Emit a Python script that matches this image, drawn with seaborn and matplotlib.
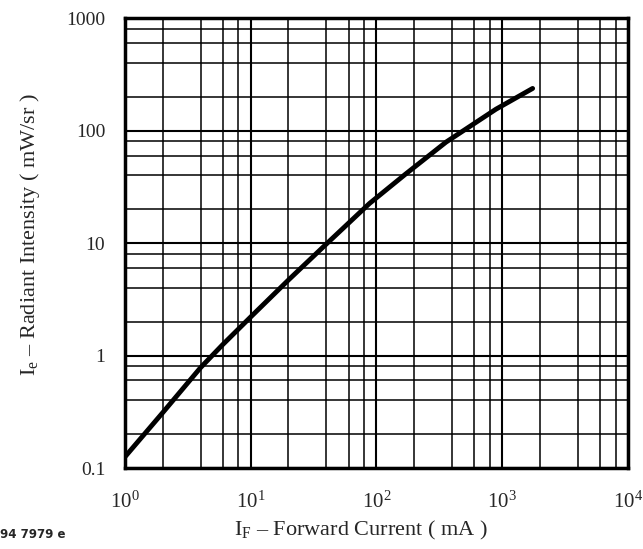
import matplotlib
matplotlib.use("Agg")
import matplotlib.pyplot as plt
import matplotlib.ticker as mticker
import seaborn as sns
import pandas as pd

# --- data ---
forward_current = [1, 2, 4, 6, 10, 20, 38, 88, 170, 357, 890, 1740]
radiant_intensity = [0.125, 0.31, 0.78, 1.25, 2.2, 4.7, 9.3, 22.5, 41, 79, 155, 237]

x_ticks = [1, 10, 100, 1000, 10000]
x_tick_labels = [r"$\mathregular{10^{0}}$", r"$\mathregular{10^{1}}$", r"$\mathregular{10^{2}}$",
                 r"$\mathregular{10^{3}}$", r"$\mathregular{10^{4}}$"]
y_ticks = [0.1, 1, 10, 100, 1000]
y_tick_labels = ["0.1", "1", "10", "100", "1000"]

df = pd.DataFrame({"IF": forward_current, "Ie": radiant_intensity})

sns.set_style("white")
plt.rcParams["font.family"] = ["Liberation Serif", "DejaVu Serif"]
plt.rcParams["mathtext.fontset"] = "custom"
plt.rcParams["mathtext.rm"] = "Liberation Serif"
plt.rcParams["mathtext.it"] = "Liberation Serif:italic"

fig = plt.figure(figsize=(6.43, 5.49), dpi=100)
ax = fig.add_axes([0.194, 0.1475, 0.783, 0.8195])

sns.lineplot(data=df, x="IF", y="Ie", ax=ax, color="black", linewidth=3.5)

ax.set_xscale("log")
ax.set_yscale("log")
ax.set_xlim(1, 10000)
ax.set_ylim(0.1, 1000)

# grid: decades plus 2, 4, 6, 8 subdivisions
ax.xaxis.set_minor_locator(mticker.LogLocator(base=10, subs=[2, 4, 6, 8]))
ax.yaxis.set_minor_locator(mticker.LogLocator(base=10, subs=[2, 4, 6, 8]))
ax.grid(which="major", color="black", linewidth=1.5)
ax.grid(which="minor", color="black", linewidth=1.1)
ax.set_axisbelow(True)

ax.set_xticks(x_ticks)
ax.set_xticklabels(x_tick_labels)
ax.set_yticks(y_ticks)
ax.set_yticklabels(y_tick_labels)
ax.xaxis.set_minor_formatter(mticker.NullFormatter())
ax.yaxis.set_minor_formatter(mticker.NullFormatter())
ax.tick_params(which="both", length=0)
ax.tick_params(axis="x", labelsize=15, pad=17)
ax.tick_params(axis="y", labelsize=14, pad=14)

for s in ax.spines.values():
    s.set_color("black")
    s.set_linewidth(2.5)

ax.set_xlabel(r"I$_\mathregular{F}$ – Forward Current ( mA )", fontsize=16)
ax.set_ylabel(r"I$_\mathregular{e}$ – Radiant Intensity ( mW/sr )", fontsize=16)
ax.xaxis.set_label_coords(0.47, -0.113)
ax.yaxis.set_label_coords(-0.165, 0.52)

fig.text(0.0, 0.02, "94 7979 e", fontsize=8.5, fontweight="bold", family="DejaVu Sans")

fig.savefig("out.png", dpi=100)
